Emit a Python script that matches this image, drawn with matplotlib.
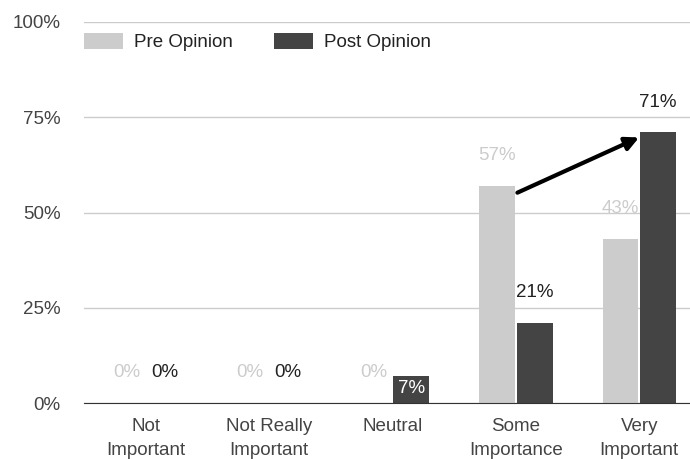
import matplotlib.pyplot as plt
import numpy as np

plt.rcParams['font.family'] = ['Liberation Sans', 'DejaVu Sans']

categories = ["Not\nImportant", "Not Really\nImportant", "Neutral", "Some\nImportance", "Very\nImportant"]
pre_opinion = [0, 0, 0, 57, 43]
post_opinion = [0, 0, 7, 21, 71]
y_ticks = [0, 25, 50, 75, 100]

pre_color = "#cccccc"
post_color = "#444444"
fs = 13.5

fig = plt.figure(figsize=(6.9, 4.59), dpi=100)
# plot area runs past the right edge of the image
ax = fig.add_axes([84 / 690, 56 / 459, 617 / 690, 381 / 459])

x = np.arange(len(categories))
w = 0.29
gap = 0.008
pre_bars = ax.bar(x - w / 2 - gap, pre_opinion, w, color=pre_color, label="Pre Opinion", zorder=3)
post_bars = ax.bar(x + w / 2 + gap, post_opinion, w, color=post_color, label="Post Opinion", zorder=3)

ax.set_xlim(-0.5, len(categories) - 0.5)
ax.set_ylim(0, 100)
ax.set_yticks(y_ticks)
ax.set_yticklabels([f"{t}%" for t in y_ticks])
ax.set_xticks(x)
ax.set_xticklabels(categories, va="top", linespacing=1.55)
ax.tick_params(axis="both", length=0, labelsize=fs, labelcolor="#444444")
ax.tick_params(axis="y", pad=17)
ax.tick_params(axis="x", pad=11)
ax.yaxis.grid(True, color="#cccccc", linewidth=1, zorder=0)
for s in ["top", "right", "left"]:
    ax.spines[s].set_visible(False)
ax.spines["bottom"].set_color("#333333")
ax.spines["bottom"].set_zorder(4)

# value labels
for b, v in zip(pre_bars, pre_opinion):
    ax.text(b.get_x() + b.get_width() / 2, v + 8, f"{v}%", ha="center", va="center",
            fontsize=fs, color="#cccccc", zorder=2)
for b, v in zip(post_bars, post_opinion):
    cx = b.get_x() + b.get_width() / 2
    if 0 < v < 10:
        ax.text(cx, v / 2 + 0.3, f"{v}%", ha="center", va="center", fontsize=fs, color="white", zorder=5)
    else:
        ax.text(cx, v + 8, f"{v}%", ha="center", va="center", fontsize=fs, color="#222222", zorder=5)

# arrow from pre "Some Importance" to post "Very Important"
tail = (pre_bars[3].get_x() + pre_bars[3].get_width() + 0.02, pre_opinion[3] - 1.8)
head = (post_bars[4].get_x() - 0.01, post_opinion[4] - 1.3)
ax.annotate("", xy=head, xytext=tail,
            arrowprops=dict(arrowstyle="-|>,head_length=0.8,head_width=0.4", color="black",
                            lw=3, shrinkA=0, shrinkB=0),
            zorder=6)

ax.legend(loc="upper left", bbox_to_anchor=(0, 0.972), ncol=2, frameon=False,
          fontsize=fs, handlelength=2.1, handleheight=1.0, handletextpad=0.55,
          columnspacing=2.2, borderaxespad=0, borderpad=0, labelcolor="#222222")

fig.savefig("out.png", dpi=100, facecolor="white")
